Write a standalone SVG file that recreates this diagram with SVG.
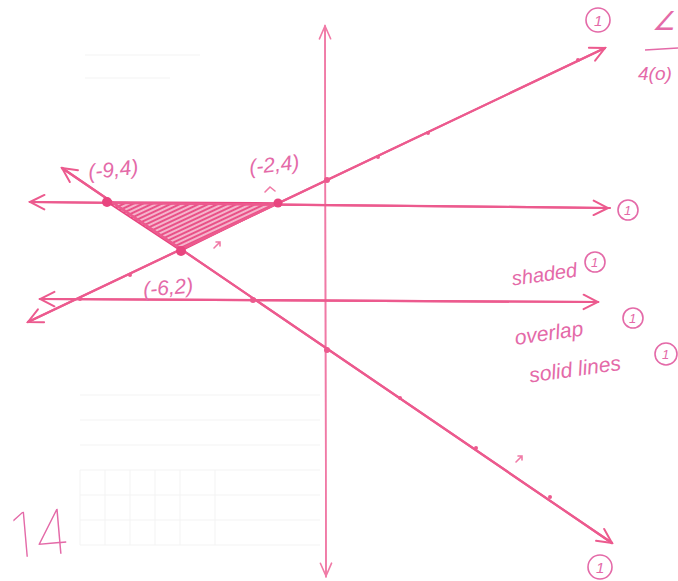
<svg xmlns="http://www.w3.org/2000/svg" width="678" height="581" viewBox="0 0 678 581">
<defs>
<style>
.ln{stroke:#ec5a8e;stroke-width:2.2;fill:none;stroke-linecap:round}
.ax{stroke:#f07aa6;stroke-width:1.6;fill:none;stroke-linecap:round}
.hd{fill:#e46aa8;font-family:"Liberation Sans",Arial,sans-serif;font-style:italic}
.ci{stroke:#e46aa8;stroke-width:1.6;fill:none}
.dot{fill:#e8457f}
.tk{fill:#ec5a8e}
.grid{stroke:#f3f3f3;stroke-width:1}
</style>
<marker id="ar" viewBox="0 0 20 20" refX="18" refY="10" markerWidth="18" markerHeight="18" markerUnits="userSpaceOnUse" orient="auto">
<path d="M2,2 L18,10 L2,18" fill="none" stroke="#ec5a8e" stroke-width="2.2" stroke-linecap="round"/>
</marker>
<marker id="ara" viewBox="0 0 20 20" refX="18" refY="10" markerWidth="16" markerHeight="16" markerUnits="userSpaceOnUse" orient="auto">
<path d="M2,3 L18,10 L2,17" fill="none" stroke="#f07aa6" stroke-width="2" stroke-linecap="round"/>
</marker>
<pattern id="hatch" patternUnits="userSpaceOnUse" width="4" height="4" patternTransform="rotate(-25)">
<rect width="4" height="4" fill="#f5b4cc"/>
<line x1="0" y1="1" x2="4" y2="1" stroke="#e8457f" stroke-width="1.8"/>
</pattern>
</defs>
<rect width="678" height="581" fill="#ffffff"/>
<g id="grid">
<path class="grid" d="M80,470 H320 M80,495 H320 M80,520 H320 M80,545 H320 M80,395 H320 M80,420 H320 M80,445 H320 M105,470 V545 M130,470 V545 M155,470 V545 M180,470 V545 M215,470 V545 M80,470 V545"/>
<path class="grid" d="M85,55 H200 M85,78 H170"/>
</g>
<g id="shaded-region">
<polygon points="107,202 278,203 181,251" fill="url(#hatch)" stroke="#e8457f" stroke-width="1.5"/>
</g>
<g id="connectors">
<line class="ax" x1="326" y1="577" x2="325" y2="26" marker-end="url(#ara)"/>
<line class="ax" x1="325" y1="26" x2="326" y2="576" marker-end="url(#ara)"/>
<line class="ln" x1="610" y1="208" x2="30" y2="202" marker-end="url(#ar)"/>
<line class="ln" x1="30" y1="202" x2="608" y2="208" marker-end="url(#ar)"/>
<line class="ln" x1="598" y1="302" x2="40" y2="299" marker-end="url(#ar)"/>
<line class="ln" x1="40" y1="299" x2="598" y2="302" marker-end="url(#ar)"/>
<line class="ln" x1="605" y1="48" x2="28" y2="322" marker-end="url(#ar)"/>
<line class="ln" x1="28" y1="322" x2="605" y2="48" marker-end="url(#ar)"/>
<line class="ln" x1="612" y1="543" x2="62" y2="168" marker-end="url(#ar)"/>
<line class="ln" x1="62" y1="168" x2="612" y2="543" marker-end="url(#ar)"/>
</g>
<g id="points">
<circle class="dot" cx="107" cy="202" r="5"/>
<circle class="dot" cx="278" cy="203" r="4.5"/>
<circle class="dot" cx="181" cy="251" r="5"/>
<circle class="tk" cx="327" cy="180" r="3"/>
<circle class="tk" cx="378" cy="157" r="2"/>
<circle class="tk" cx="428" cy="133" r="2"/>
<circle class="tk" cx="578" cy="60" r="2"/>
<circle class="tk" cx="253" cy="300" r="3"/>
<circle class="tk" cx="80" cy="299" r="2"/>
<circle class="tk" cx="327" cy="350" r="3"/>
<circle class="tk" cx="400" cy="398" r="2"/>
<circle class="tk" cx="476" cy="448" r="2"/>
<circle class="tk" cx="550" cy="497" r="2"/>
<circle class="tk" cx="130" cy="275" r="2"/>
<path class="ax" d="M214,248 L220,242 M216,242 L220,242 L220,246"/>
<path class="ax" d="M516,462 L522,456 M518,456 L522,456 L522,460"/>
<path class="ax" d="M265,192 L270,187 L275,191"/>
</g>
<g id="labels">
<text class="hd" x="88" y="176" font-size="21" transform="rotate(-6 118 168)">(-9,4)</text>
<text class="hd" x="249" y="171" font-size="21" transform="rotate(-6 280 163)">(-2,4)</text>
<text class="hd" x="143" y="294" font-size="21" transform="rotate(-5 175 287)">(-6,2)</text>
<circle class="ci" cx="598" cy="20" r="12"/>
<text class="hd" x="594" y="26" font-size="15">1</text>
<text class="hd" x="652" y="30" font-size="26">∠</text>
<line class="ci" x1="645" y1="50" x2="678" y2="48"/>
<text class="hd" x="638" y="80" font-size="19">4(o)</text>
<circle class="ci" cx="628" cy="210" r="10"/>
<text class="hd" x="624" y="215" font-size="13">1</text>
<text class="hd" x="511" y="281" font-size="20" transform="rotate(-8 545 270)">shaded</text>
<circle class="ci" cx="595" cy="262" r="10"/>
<text class="hd" x="591" y="267" font-size="13">1</text>
<text class="hd" x="514" y="340" font-size="21" transform="rotate(-8 550 330)">overlap</text>
<circle class="ci" cx="633" cy="318" r="10"/>
<text class="hd" x="629" y="323" font-size="13">1</text>
<text class="hd" x="528" y="374" font-size="21" transform="rotate(-8 590 362)">solid lines</text>
<circle class="ci" cx="666" cy="354" r="11"/>
<text class="hd" x="662" y="359" font-size="13">1</text>
<circle class="ci" cx="600" cy="567" r="12"/>
<text class="hd" x="596" y="573" font-size="15">1</text>
<text x="10" y="556" font-size="62" fill="#e46aa8" font-family="Inter,'DejaVu Sans',sans-serif" font-weight="100" transform="rotate(-5 35 530)">14</text>
</g>
</svg>
